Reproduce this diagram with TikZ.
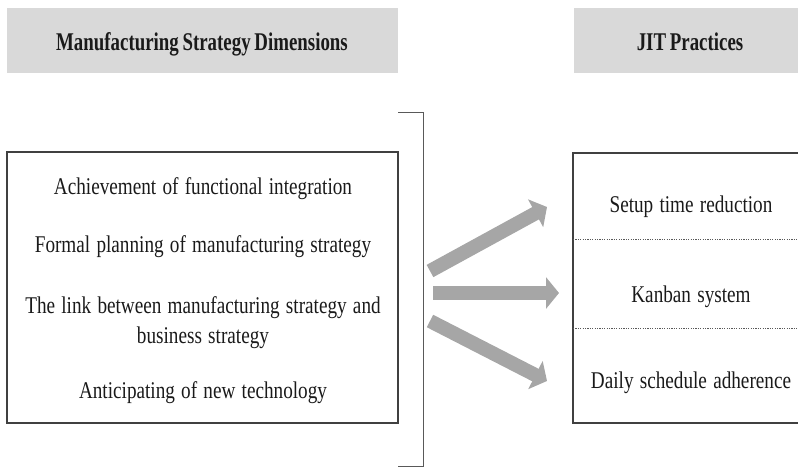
\documentclass[tikz,border=0pt]{standalone}
\usepackage{fontspec}
\setmainfont{Liberation Serif}
\newfontfamily\itemfont[FakeStretch=0.80, WordSpace=1.3]{Liberation Serif}
\newfontfamily\headfont[FakeStretch=0.74, WordSpace=0.8]{Liberation Serif}
\usetikzlibrary{arrows.meta}
\definecolor{headgray}{HTML}{D9D9D9}
\definecolor{arrowgray}{HTML}{A6A6A6}
\definecolor{framegray}{HTML}{404040}
\definecolor{bracketgray}{HTML}{595959}
\definecolor{textblack}{HTML}{1A1A1A}
\tikzset{
  headtext/.style={font=\headfont\bfseries\fontsize{25.5}{28}\selectfont,
    text=textblack, inner sep=0pt, anchor=base},
  itemtext/.style={font=\itemfont\fontsize{24}{28}\selectfont,
    text=textblack, inner sep=0pt, anchor=base},
  frame/.style={draw=framegray, line width=1.4pt},
  divider/.style={draw=bracketgray, line width=0.8pt, dash pattern=on 1.2pt off 1.2pt},
  bracket/.style={draw=bracketgray, line width=1pt},
  bigarrow/.style={draw=arrowgray, line width=14pt,
    -{Triangle[length=13pt, width=31pt]}},
}
\begin{document}
\begin{tikzpicture}[x=1pt, y=-1pt]
\useasboundingbox (0,0) rectangle (798,468);

% header bars
\fill[headgray] (7,8) rectangle (398,73);
\fill[headgray] (574,8) rectangle (798,73);
\node[headtext] (hleft) at (202,51) {Manufacturing Strategy Dimensions};
\node[headtext] (hright) at (690,51) {JIT Practices};

% left box of dimensions
\draw[frame] (7,152) rectangle (398,423);
\node[itemtext] (d1) at (203,194) {Achievement of functional integration};
\node[itemtext] (d2) at (203,252) {Formal planning of manufacturing strategy};
\node[itemtext] (d3a) at (203,313) {The link between manufacturing strategy and};
\node[itemtext] (d3b) at (203,343) {business strategy};
\node[itemtext] (d4) at (203,398) {Anticipating of new technology};

% bracket grouping the dimensions
\draw[bracket] (398,113) -- (423,113) -- (423,466) -- (398,466);

% right box of practices, open on the right
\draw[frame] (798,153) -- (573,153) -- (573,423) -- (798,423);
\draw[divider] (573,239) -- (798,239);
\draw[divider] (573,328) -- (798,328);
\node[itemtext] (p1) at (691,212) {Setup time reduction};
\node[itemtext] (p2) at (691,302) {Kanban system};
\node[itemtext] (p3) at (691,388) {Daily schedule adherence};

% arrows from the bracket to the practices
\coordinate (s1) at (430,271);
\coordinate (t1) at (547,207);
\coordinate (s2) at (433,293);
\coordinate (t2) at (559,293);
\coordinate (s3) at (430,321);
\coordinate (t3) at (547,381);
\draw[bigarrow] (s1) -- (t1);
\draw[bigarrow] (s2) -- (t2);
\draw[bigarrow] (s3) -- (t3);
\end{tikzpicture}
\end{document}
